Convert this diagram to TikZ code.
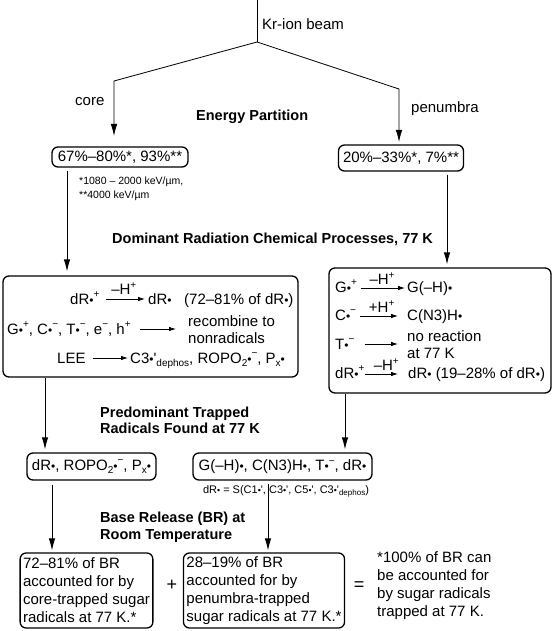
\documentclass[tikz,border=0pt]{standalone}
\usepackage{fontspec}
\setmainfont{Liberation Sans}
\usetikzlibrary{arrows.meta}
\newcommand{\mysup}[1]{\raisebox{0.42em}{\fontsize{10}{10}\selectfont #1}}
\newcommand{\mysub}[1]{\raisebox{-0.25em}{\fontsize{10}{10}\selectfont #1}}
\newcommand{\rad}{\scalebox{0.8}{•}}
\tikzset{
  mainfont/.style={font=\fontsize{15}{18}\selectfont},
  headfont/.style={font=\fontsize{14.5}{16.5}\selectfont\bfseries},
  tx/.style={anchor=base west, inner sep=0pt, mainfont},
  head/.style={anchor=base west, inner sep=0pt, headfont},
  rbox/.style={draw, line width=1.3pt, rounded corners=6pt, inner sep=0pt, mainfont},
  conn/.style={line width=0.8pt},
  mainarr/.style={conn, -{Latex[length=12pt,width=6.5pt]}},
  smallarr/.style={line width=0.8pt, -{Latex[length=7pt,width=4.5pt]}},
  lbl/.style={inner sep=0pt, anchor=south, mainfont},
}
\begin{document}
\begin{tikzpicture}[x=1pt,y=-1pt]
\useasboundingbox (0,0) rectangle (553,631);

% beam split
\coordinate (beamtop) at (257,0);
\coordinate (split) at (257,42);
\coordinate (corebend) at (114,81);
\coordinate (coretip) at (114,136);
\coordinate (penbend) at (399,89);
\coordinate (pentip) at (399,142);
\draw[conn] (beamtop) -- (split);
\draw[mainarr] (split) -- (corebend) -- (coretip);
\draw[mainarr] (split) -- (penbend) -- (pentip);

\node[tx] (beam) at (262,30) {Kr-ion beam};
\node[tx] (core) at (75,106) {core};
\node[tx] (pen) at (411,113) {penumbra};
\node[head] (ep) at (196,121) {Energy Partition};

\node[rbox, minimum width=136pt, minimum height=20pt] (b1) at (120,157) {67\%–80\%*, 93\%**};
\node[rbox, minimum width=125pt, minimum height=26pt] (b2) at (401,158) {20\%–33\%*, 7\%**};

\node[anchor=base west, inner sep=0pt, font=\fontsize{10.5}{12}\selectfont] (fn1) at (79,185) {*1080 – 2000 keV/µm,};
\node[anchor=base west, inner sep=0pt, font=\fontsize{10.5}{12}\selectfont] (fn2) at (79,198) {**4000 keV/µm};

\node[head] (drc) at (112,243) {Dominant Radiation Chemical Processes, 77 K};

% process boxes
\node[rbox, minimum width=295pt, minimum height=101pt] (b3) at (150.5,326.5) {};
\node[rbox, minimum width=222pt, minimum height=125pt] (b4) at (440,330.5) {};

\coordinate (lx1) at (67,0);
\coordinate (rx1) at (447,0);
\draw[mainarr, shorten <=3pt, shorten >=4pt] (b1.south -| lx1) -- (b3.north -| lx1);
\draw[mainarr, shorten <=3pt, shorten >=3pt] (b2.south -| rx1) -- (b4.north -| rx1);

% box 3 rows
\node[tx] (r1a) at (70,304) {dR\rad\mysup{+}};
\node[tx] (r1b) at (148,304) {dR\rad};
\node[tx] (r1c) at (184,304) {(72–81\% of dR\rad)};
\coordinate (r1y) at ([yshift=5pt]r1a.base east);
\draw[smallarr, shorten <=6pt, shorten >=3pt] (r1y) -- (r1y -| r1b.west) node[lbl, midway, above=4pt] (r1l) {–H\mysup{+}};

\node[tx] (r2a) at (7,334) {G\rad\mysup{+}, C\rad\mysup{−}, T\rad\mysup{−}, e\mysup{−}, h\mysup{+}};
\node[tx] (r2b) at (188,326) {recombine to};
\node[tx] (r2c) at (188,343) {nonradicals};
\coordinate (r2y) at ([yshift=5pt]r2a.base east);
\draw[smallarr, shorten <=9pt, shorten >=12pt] (r2y) -- (r2y -| r2b.west);

\node[tx] (r3a) at (57,363) {LEE};
\node[tx] (r3b) at (130,363) {C3\rad\textquotesingle\mysub{dephos}, ROPO\mysub{2}\rad\mysup{−}, P\mysub{x}\rad};
\coordinate (r3y) at ([yshift=5pt]r3a.base east);
\draw[smallarr, shorten <=7pt, shorten >=2pt] (r3y) -- (r3y -| r3b.west);

% box 4 rows
\node[tx] (s1a) at (335,292) {G\rad\mysup{+}};
\node[tx] (s1b) at (407,292) {G(–H)\rad};
\coordinate (s1y) at ([yshift=4pt]s1a.base east);
\draw[smallarr, shorten <=4pt, shorten >=2pt] (s1y) -- (s1y -| s1b.west) node[lbl, midway, above=3pt] (s1l) {–H\mysup{+}};

\node[tx] (s2a) at (335,320) {C\rad\mysup{−}};
\node[tx] (s2b) at (407,320) {C(N3)H\rad};
\coordinate (s2y) at ([yshift=4pt]s2a.base east);
\draw[smallarr, shorten <=4pt, shorten >=9pt] (s2y) -- (s2y -| s2b.west) node[lbl, midway, above=3pt] (s2l) {+H\mysup{+}};

\node[tx] (s3a) at (335,349) {T\rad\mysup{−}};
\node[tx] (s3b) at (407,341) {no reaction};
\node[tx] (s3c) at (407,358) {at 77 K};
\coordinate (s3y) at ([yshift=5pt]s3a.base east);
\draw[smallarr, shorten <=10pt, shorten >=9pt] (s3y) -- (s3y -| s3b.west);

\node[tx] (s4a) at (335,378) {dR\rad\mysup{+}};
\node[tx] (s4b) at (408,378) {dR\rad\ (19–28\% of dR\rad)};
\coordinate (s4y) at ([yshift=4pt]s4a.base east);
\draw[smallarr, shorten <=0pt, shorten >=10pt] (s4y) -- (s4y -| s4b.west) node[lbl, midway, above=3pt] (s4l) {–H\mysup{+}};

% trapped radicals
\node[head] (pt1) at (100,417) {Predominant Trapped};
\node[head] (pt2) at (100,433) {Radicals Found at 77 K};

\node[rbox, minimum width=129pt, minimum height=27pt] (b5) at (91.5,466.5) {dR\rad, ROPO\mysub{2}\rad\mysup{−}, P\mysub{x}\rad};
\node[rbox, minimum width=179pt, minimum height=27pt] (b6) at (282.5,466.5) {G(–H)\rad, C(N3)H\rad, T\rad\mysup{−}, dR\rad};
\node[anchor=base, inner sep=0pt, font=\fontsize{11}{12}\selectfont] (dRdef) at (286,493) {dR\rad{} = S(C1\rad\textquotesingle, C3\rad\textquotesingle, C5\rad\textquotesingle, C3\rad\textquotesingle\raisebox{-0.25em}{\fontsize{8}{8}\selectfont dephos})};

\coordinate (lx2) at (45,0);
\coordinate (rx2) at (345,0);
\draw[mainarr, shorten >=3pt] (b3.south -| lx2) -- (b5.north -| lx2);
\draw[mainarr, shorten >=3pt] (b4.south -| rx2) -- (b6.north -| rx2);

% base release
\node[head] (br1) at (100,522) {Base Release (BR) at};
\node[head] (br2) at (100,539) {Room Temperature};

\node[rbox, align=left, inner xsep=3pt, minimum height=75pt] (b7) at (86.5,590.5) {72–81\% of BR\\accounted for by\\core-trapped sugar\\radicals at 77 K.*};
\node[rbox, align=left, inner xsep=3pt, minimum height=75pt] (b8) at (264,590.5) {28–19\% of BR\\accounted for by\\penumbra-trapped\\sugar radicals at 77 K.*};

\coordinate (lx3) at (52,0);
\coordinate (rx3) at (268,0);
\draw[mainarr, shorten <=4pt, shorten >=2pt] (b5.south -| lx3) -- (b7.north -| lx3);
\draw[mainarr, shorten <=3pt, shorten >=2pt] (b6.south -| rx3) -- (b8.north -| rx3);

\node[inner sep=0pt, font=\fontsize{18}{18}\selectfont] (plus) at (172,585) {+};
\node[inner sep=0pt, font=\fontsize{18}{18}\selectfont] (eq) at (359,586) {=};

\node[anchor=north west, align=left, inner sep=0pt, mainfont] (fn3) at (377,551) {*100\% of BR can\\be accounted for\\by sugar radicals\\trapped at 77 K.};
\end{tikzpicture}
\end{document}
